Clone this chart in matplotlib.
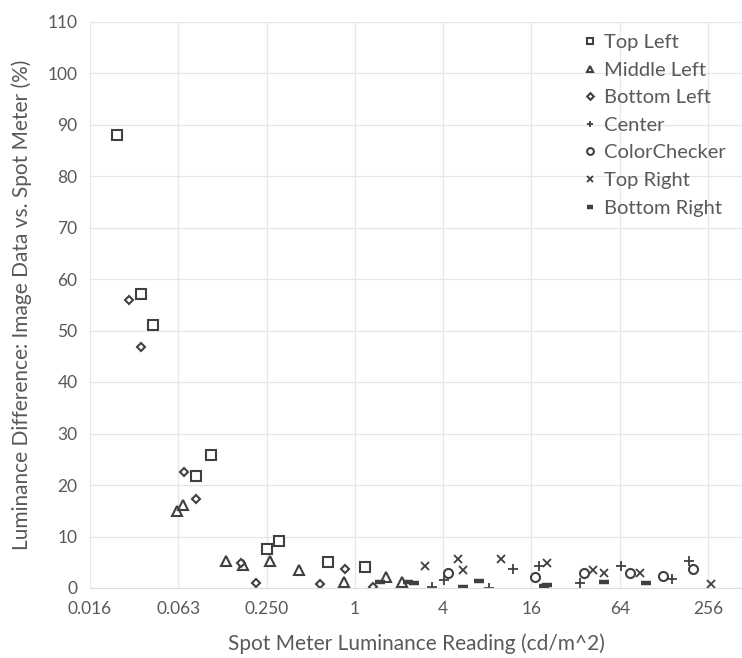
import matplotlib
matplotlib.use('Agg')
import matplotlib.pyplot as plt

plt.rcParams['font.family'] = ['Lato', 'DejaVu Sans']

# spot meter reading (cd/m^2) and luminance difference (%) per patch location
top_left_x = [0.0238, 0.0347, 0.0418, 0.0824, 0.104, 0.252, 0.306, 0.66, 1.17]
top_left_y = [88.0, 57.0, 51.0, 21.8, 25.8, 7.5, 9.1, 5.0, 4.1]

middle_left_x = [0.0609, 0.0675, 0.132, 0.173, 0.263, 0.417, 0.84, 1.62, 2.08]
middle_left_y = [15.0, 16.1, 5.2, 4.5, 5.2, 3.4, 1.1, 2.1, 1.2]

bottom_left_x = [0.0288, 0.0346, 0.0686, 0.082, 0.166, 0.213, 0.578, 0.85, 1.32]
bottom_left_y = [55.9, 46.7, 22.5, 17.3, 4.9, 1.0, 0.7, 3.6, 0.2]

center_x = [3.37, 4.05, 8.16, 12.0, 18.0, 34.2, 64.8, 146, 190]
center_y = [0.25, 1.55, 0.0, 3.7, 4.3, 0.9, 4.3, 1.75, 5.3]

colorchecker_x = [4.33, 16.9, 36.6, 75, 126, 203]
colorchecker_y = [3.0, 2.2, 3.0, 3.0, 2.4, 3.6]

top_right_x = [3.0, 5.02, 5.47, 9.9, 20.3, 41.7, 50, 87.8, 270]
top_right_y = [4.3, 5.6, 3.5, 5.6, 4.8, 3.4, 2.85, 3.0, 0.8]

bottom_right_x = [1.48, 2.30, 2.52, 5.47, 7.0, 19.5, 20.3, 50, 96]
bottom_right_y = [1.2, 1.2, 0.9, 0.25, 1.35, 0.3, 0.5, 1.2, 0.9]

xticks = [0.015625, 0.0625, 0.25, 1, 4, 16, 64, 256]
xtick_labels = ['0.016', '0.063', '0.250', '1', '4', '16', '64', '256']

series = [
    ('Top Left', top_left_x, top_left_y, 's', 6.5, 1.5),
    ('Middle Left', middle_left_x, middle_left_y, '^', 6.5, 1.5),
    ('Bottom Left', bottom_left_x, bottom_left_y, 'D', 4.5, 1.5),
    ('Center', center_x, center_y, '+', 6.5, 1.3),
    ('ColorChecker', colorchecker_x, colorchecker_y, 'o', 6.5, 1.5),
    ('Top Right', top_right_x, top_right_y, 'x', 5.5, 1.3),
    ('Bottom Right', bottom_right_x, bottom_right_y, '_', 6.5, 3.2),
]

edge = '#404040'
text_color = '#595959'

fig = plt.figure(figsize=(7.42, 6.58), dpi=100)
ax = fig.add_axes([90 / 742, 70 / 658, 652 / 742, 566.5 / 658])

for name, xs, ys, m, ms, mew in series:
    ax.plot(xs, ys, linestyle='none', marker=m, markersize=ms, markeredgewidth=mew,
            markerfacecolor='white', markeredgecolor=edge, color=edge, label=name)

ax.set_xscale('log', base=2)
ax.set_xlim(0.015625, 436)
ax.set_ylim(0, 110)
ax.set_xticks(xticks)
ax.set_xticklabels(xtick_labels)
ax.set_yticks(range(0, 111, 10))
ax.minorticks_off()
ax.grid(True, color='#e6e6e6', linewidth=0.9)
ax.set_axisbelow(True)
for s in ['top', 'right', 'left']:
    ax.spines[s].set_visible(False)
ax.spines['bottom'].set_color('#dcdcdc')
ax.tick_params(length=0, labelsize=12.5, labelcolor=text_color, pad=9)

ax.set_xlabel('Spot Meter Luminance Reading (cd/m^2)', fontsize=15, color=text_color, labelpad=12)
ax.set_ylabel('Luminance Difference: Image Data vs. Spot Meter (%)', fontsize=15,
              color=text_color, labelpad=11)

leg = ax.legend(loc='upper right', bbox_to_anchor=(734 / 742, 1 - 26 / 658),
                bbox_transform=fig.transFigure, frameon=False, fontsize=14.5,
                handletextpad=0.2, labelspacing=0.52, markerscale=0.75,
                handlelength=1.0, borderaxespad=0)
for t in leg.get_texts():
    t.set_color(text_color)

fig.savefig('out.png', dpi=100)
